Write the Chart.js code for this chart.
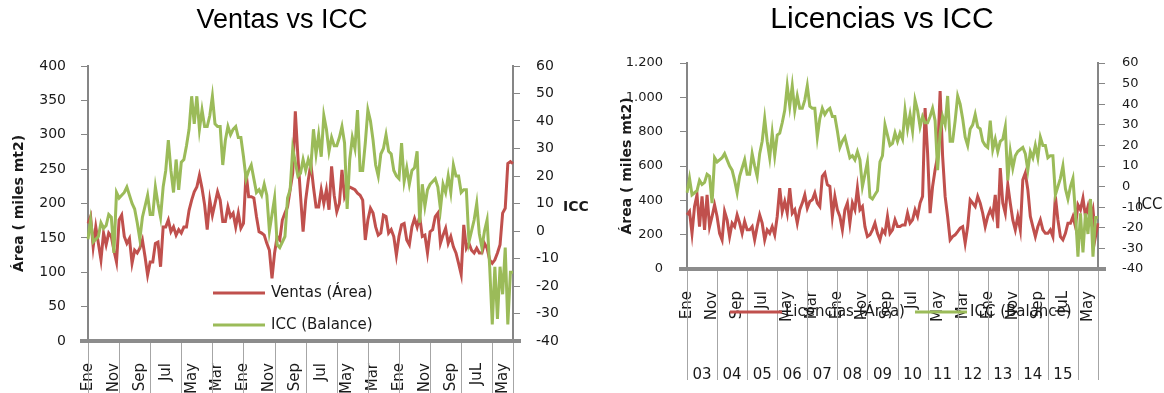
<!DOCTYPE html>
<html lang="es">
<head>
<meta charset="utf-8">
<title>Ventas y Licencias vs ICC</title>
<script src="https://cdn.jsdelivr.net/npm/chart.js@4.4.1/dist/chart.umd.min.js"></script>
<style>
  html, body { margin: 0; padding: 0; background: #fff; }
  #wrap { position: relative; width: 1164px; height: 393px; overflow: hidden; }
  #chartVentas { position: absolute; left: 0; top: 0; }
  #chartLicencias { position: absolute; left: 600px; top: 0; }
</style>
</head>
<body>
<div id="wrap">
  <canvas id="chartVentas" width="600" height="393"></canvas>
  <canvas id="chartLicencias" width="564" height="393"></canvas>
</div>
<script>
// datos mensuales, Ene 2003 - Sep 2016
const meses = ['Ene', 'Feb', 'Mar', 'Abr', 'May', 'Jun', 'Jul', 'Ago', 'Sep', 'Oct', 'Nov', 'Dic'];
const anios = ['03', '04', '05', '06', '07', '08', '09', '10', '11', '12', '13', '14', '15', '16'];

// etiquetas visibles del eje (una cada 10 meses) y fila de años
const etiquetasEje = ['Ene', 'Nov', 'Sep', 'Jul', 'May', 'Mar', 'Ene', 'Nov', 'Sep', 'Jul', 'May', 'Mar', 'Ene', 'Nov', 'Sep', 'JuL', 'May'];
const etiquetasAnio = ['03', '04', '05', '06', '07', '08', '09', '10', '11', '12', '13', '14', '15'];

// Ventas (Área, miles mt2)
const ventas = [
  171, 181, 137, 166, 142, 118, 157, 140, 157, 152,
  132, 115, 176, 183, 152, 142, 149, 113, 132, 128,
  135, 147, 123, 96, 115, 115, 142, 144, 108, 166,
  166, 176, 159, 166, 154, 162, 157, 166, 166, 190,
  205, 217, 224, 241, 222, 198, 162, 205, 183, 200,
  217, 205, 174, 174, 195, 181, 186, 166, 186, 164,
  171, 245, 210, 210, 208, 181, 159, 157, 154, 142,
  132, 91, 128, 152, 147, 176, 186, 195, 220, 244,
  334, 268, 212, 159, 205, 234, 258, 224, 195, 195,
  220, 200, 220, 191, 254, 212, 188, 200, 249, 210,
  220, 224, 222, 220, 215, 212, 205, 147, 176, 193,
  186, 166, 154, 157, 183, 181, 157, 162, 152, 125,
  152, 169, 171, 147, 140, 166, 178, 166, 181, 152,
  154, 128, 159, 162, 181, 186, 142, 154, 164, 142,
  152, 137, 128, 113, 97, 169, 135, 142, 132, 128,
  135, 128, 128, 142, 135, 118, 113, 118, 128, 140,
  186, 193, 258, 261, 258
];

// Licencias (Área, miles mt2)
const licencias = [
  315, 335, 208, 364, 432, 247, 423, 228, 432, 247,
  306, 374, 306, 208, 170, 335, 286, 189, 267, 247,
  315, 267, 208, 277, 228, 228, 247, 170, 247, 315,
  267, 170, 228, 208, 247, 199, 306, 471, 335, 393,
  325, 471, 325, 345, 267, 345, 384, 432, 354, 393,
  403, 442, 384, 364, 540, 559, 491, 481, 306, 423,
  345, 306, 228, 345, 384, 267, 384, 345, 471, 345,
  364, 247, 189, 199, 228, 267, 208, 170, 228, 208,
  306, 208, 228, 286, 247, 247, 257, 257, 325, 267,
  286, 345, 306, 384, 423, 938, 676, 325, 481, 578,
  656, 1036, 656, 423, 306, 170, 189, 199, 218, 238,
  247, 150, 247, 403, 384, 364, 423, 384, 325, 247,
  306, 345, 306, 432, 238, 588, 384, 325, 491, 384,
  286, 228, 306, 228, 520, 559, 462, 306, 247, 189,
  247, 286, 228, 208, 208, 228, 189, 423, 286, 189,
  170, 208, 267, 267, 306, 247, 374, 345, 413, 306,
  364, 286, 345, 189, 267
];

// ICC (Balance)
const icc = [
  -3, 4, -4, -3, -2, 3, 1, 2, 6, 5,
  -8, 14, 12, 13, 14, 16, 13, 10, 8, 3,
  -3, 5, 9, 13, 6, 6, 16, 10, 5, 16,
  22, 33, 22, 14, 26, 15, 25, 26, 31, 37,
  49, 39, 49, 37, 44, 38, 38, 42, 49, 39,
  38, 38, 24, 33, 38, 35, 37, 38, 34, 34,
  27, 19, 22, 24, 19, 14, 15, 13, 17, 13,
  0, 6, 12, -5, -6, -4, -2, 12, 15, 30,
  25, 20, 21, 26, 22, 26, 23, 37, 28, 35,
  27, 42, 37, 29, 34, 31, 31, 34, 38, 32,
  8, 26, 34, 30, 44, 22, 22, 32, 44, 40,
  33, 24, 20, 28, 30, 35, 29, 28, 22, 20,
  19, 32, 18, 23, 17, 22, 23, 29, 3, 17,
  9, 15, 17, 18, 19, 16, 8, 17, 14, 20,
  14, 24, 20, 20, 14, 15, 15, -4, 0, 4,
  10, -1, -6, 0, 4, -13, -34, -13, -32, -13,
  -23, -6, -34, -15, -15
];

const categorias = [];
anios.forEach(a => meses.forEach(m => categorias.push(m + ' ' + a)));
categorias.length = ventas.length;

const colorRojo = '#c0504d';
const colorVerde = '#9bbb59';
const colorEje = '#868686';
const colorTexto = '#1a1a1a';
const fuente = 'DejaVu Sans';

const miles = v => String(v).replace(/\B(?=(\d{3})+(?!\d))/g, '.');

// separadores de año, leyenda y rótulo "ICC" dibujados sobre el gráfico
const extras = {
  id: 'extras',
  afterDraw(chart, args, opts) {
    const { ctx, chartArea } = chart;
    const ejeX = chart.scales.x;
    const ultimo = chart.data.labels.length - 1;
    const abajo = chartArea.bottom + opts.largoSeparador;

    ctx.save();
    // la línea gruesa del eje sobresale un poco a cada lado
    ctx.strokeStyle = '#8c8c8c';
    ctx.lineWidth = 4;
    ctx.beginPath();
    ctx.moveTo(chartArea.left - 8, chartArea.bottom);
    ctx.lineTo(chartArea.right + 8, chartArea.bottom);
    ctx.stroke();

    ctx.strokeStyle = '#a6a6a6';
    ctx.lineWidth = 1;
    const cortes = [];
    for (let i = 0; i <= ultimo; i += 12) cortes.push(i);
    cortes.push(ultimo);
    ctx.beginPath();
    cortes.forEach(i => {
      const x = Math.round(ejeX.getPixelForValue(i)) + 0.5;
      ctx.moveTo(x, chartArea.bottom + 2);
      ctx.lineTo(x, abajo);
    });
    ctx.stroke();

    ctx.save();
    ctx.beginPath();
    ctx.rect(0, chartArea.bottom, chart.width, opts.largoSeparador);
    ctx.clip();
    ctx.font = '15px "' + fuente + '"';
    ctx.fillStyle = colorTexto;
    ctx.textAlign = 'center';
    ctx.textBaseline = 'middle';
    etiquetasAnio.forEach((a, k) => {
      const x = (ejeX.getPixelForValue(12 * k) + ejeX.getPixelForValue(12 * k + 12)) / 2;
      ctx.fillText(a, x, chartArea.bottom + opts.filaAnio);
    });
    ctx.restore();

    // leyenda
    ctx.font = '15px "' + fuente + '"';
    ctx.textAlign = 'left';
    ctx.textBaseline = 'middle';
    chart.data.datasets.forEach((ds, i) => {
      const p = opts.leyenda[i];
      ctx.strokeStyle = ds.borderColor;
      ctx.lineWidth = 3;
      ctx.beginPath();
      ctx.moveTo(p.x, p.y);
      ctx.lineTo(p.x + 52, p.y);
      ctx.stroke();
      ctx.fillStyle = colorTexto;
      ctx.fillText(ds.label, p.x + 52 + opts.separacion, p.y);
    });

    // rótulo del eje secundario
    ctx.font = opts.icc.peso + ' ' + opts.icc.size + 'px "' + fuente + '"';
    ctx.fillStyle = colorTexto;
    ctx.fillText('ICC', opts.icc.x, opts.icc.y);
    ctx.restore();
  }
};

function opcionesEjeY(posicion, min, max, paso, sizeTicks, padding, ancho, extra) {
  return Object.assign({
    type: 'linear',
    position: posicion,
    min: min,
    max: max,
    ticks: { stepSize: paso, padding: padding, color: colorTexto, font: { family: fuente, size: sizeTicks } },
    grid: { drawOnChartArea: false, drawTicks: true, tickLength: 7, color: colorEje, lineWidth: 1 },
    border: { color: colorEje, width: 2 },
    afterFit: s => { s.width = ancho; }
  }, extra || {});
}

function opcionesEjeX(alto) {
  return {
    type: 'category',
    grid: { display: false, drawTicks: false },
    border: { color: '#8c8c8c', width: 4 },
    ticks: {
      autoSkip: false,
      maxRotation: 90,
      minRotation: 90,
      padding: 22,
      color: colorTexto,
      font: { family: fuente, size: 15 },
      callback: (v, i) => (i % 10 === 0 ? etiquetasEje[i / 10] : null)
    },
    afterFit: s => { s.height = alto; }
  };
}

const tituloEjeArea = (pad) => ({
  display: true,
  text: 'Área ( miles mt2)',
  color: colorTexto,
  font: { family: fuente, size: 14, weight: 'bold' },
  padding: { top: pad, bottom: 0 }
});

new Chart(document.getElementById('chartVentas'), {
  type: 'line',
  data: {
    labels: categorias,
    datasets: [
      { label: 'Ventas (Área)', data: ventas, yAxisID: 'y', borderColor: colorRojo, borderWidth: 3, pointRadius: 0, order: 1 },
      { label: 'ICC (Balance)', data: icc, yAxisID: 'y1', borderColor: colorVerde, borderWidth: 3, pointRadius: 0, order: 0 }
    ]
  },
  options: {
    responsive: false,
    animation: false,
    devicePixelRatio: 1,
    layout: { padding: { left: 0, right: 36, top: 0, bottom: 0 } },
    scales: {
      x: opcionesEjeX(52),
      y: opcionesEjeY('left', 0, 400, 50, 14, 15, 88, { title: tituloEjeArea(10.6) }),
      y1: opcionesEjeY('right', -40, 60, 10, 14, 16, 51)
    },
    plugins: {
      legend: { display: false },
      tooltip: { enabled: false },
      title: {
        display: true,
        text: 'Ventas vs ICC',
        color: '#000',
        font: { family: 'Liberation Sans', size: 27, weight: 'normal' },
        padding: { top: 4, bottom: 29.6 }
      },
      extras: {
        largoSeparador: 111,
        filaAnio: 106,
        separacion: 6,
        leyenda: [{ x: 213, y: 293 }, { x: 213, y: 325 }],
        icc: { x: 563, y: 207, size: 14, peso: 'bold' }
      }
    }
  },
  plugins: [extras]
});

new Chart(document.getElementById('chartLicencias'), {
  type: 'line',
  data: {
    labels: categorias,
    datasets: [
      { label: 'Licencias (Área)', data: licencias, yAxisID: 'y', borderColor: colorRojo, borderWidth: 3, pointRadius: 0, order: 1 },
      { label: 'ICC (Balance)', data: icc, yAxisID: 'y1', borderColor: colorVerde, borderWidth: 3, pointRadius: 0, order: 0 }
    ]
  },
  options: {
    responsive: false,
    animation: false,
    devicePixelRatio: 1,
    layout: { padding: { left: 0, right: 0, top: 0, bottom: 0 } },
    scales: {
      x: opcionesEjeX(124),
      y: opcionesEjeY('left', 0, 1200, 200, 13, 17, 87, {
        title: tituloEjeArea(18.6),
        ticks: { stepSize: 200, padding: 17, color: colorTexto, font: { family: fuente, size: 13 }, callback: v => miles(v) }
      }),
      y1: opcionesEjeY('right', -40, 60, 10, 13, 17, 66)
    },
    plugins: {
      legend: { display: false },
      tooltip: { enabled: false },
      title: {
        display: true,
        text: 'Licencias vs ICC',
        color: '#000',
        font: { family: 'Liberation Sans', size: 30, weight: 'normal' },
        padding: { top: 2, bottom: 25 }
      },
      extras: {
        largoSeparador: 111,
        filaAnio: 106,
        separacion: 3,
        leyenda: [{ x: 130, y: 312 }, { x: 315, y: 312 }],
        icc: { x: 537, y: 205, size: 15, peso: 'normal' }
      }
    }
  },
  plugins: [extras]
});
</script>
</body>
</html>
